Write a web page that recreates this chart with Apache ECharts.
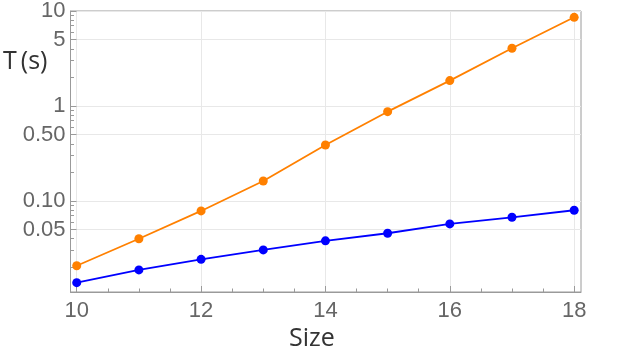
<!DOCTYPE html>
<html>
<head>
<meta charset="utf-8">
<script src="https://cdn.jsdelivr.net/npm/echarts@6/dist/echarts.min.js"></script>
<style>html,body{margin:0;padding:0;background:#fff}#c{width:623px;height:352px}</style>
</head>
<body>
<div id="c"></div>
<script>
var sizes = [10, 11, 12, 13, 14, 15, 16, 17, 18];
var orangeT = [0.0208, 0.040, 0.0785, 0.162, 0.388, 0.871, 1.85, 4.05, 8.58];
var blueT = [0.0138, 0.0188, 0.0243, 0.0305, 0.038, 0.0457, 0.0573, 0.0673, 0.0798];
var yMajorTicks = [0.05, 0.1, 0.5, 1, 5, 10];
var yMajorLabels = ['0.05', '0.10', '0.50', '1', '5', '10'];
var yMinorTicks = [0.02, 0.03, 0.04, 0.06, 0.07, 0.08, 0.09, 0.2, 0.3, 0.4, 0.6, 0.7, 0.8, 0.9, 2, 3, 4, 6, 7, 8, 9];
var xMajorTicks = [10, 12, 14, 16, 18];
var xMinorTicks = [10.5, 11, 11.5, 12.5, 13, 13.5, 14.5, 15, 15.5, 16.5, 17, 17.5];

var axisGray = '#9a9a9a';
var labelGray = '#666666';
var yMin = 0.011, yMax = 10, xMin = 9.9, xMax = 18.11;

var chart = echarts.init(document.getElementById('c'), null, {renderer: 'canvas'});
function pts(vals) { return sizes.map(function (s, i) { return [s, vals[i]]; }); }

chart.setOption({
  animation: false,
  backgroundColor: '#fff',
  grid: {left: 70.5, right: 42, top: 11, bottom: 60, show: true, borderColor: axisGray, borderWidth: 1, backgroundColor: 'transparent'},
  xAxis: [{
    type: 'value', min: xMin, max: xMax,
    axisLine: {show: true, lineStyle: {color: axisGray}},
    axisTick: {show: true, inside: true, length: 6, customValues: xMajorTicks, lineStyle: {color: axisGray}},
    axisLabel: {show: true, customValues: xMajorTicks, margin: 8, color: labelGray, fontSize: 22, fontFamily: 'Liberation Sans'},
    splitLine: {show: true, lineStyle: {color: '#e8e8e8'}}
  }, {
    type: 'value', min: xMin, max: xMax, position: 'bottom',
    axisLine: {show: false},
    axisTick: {show: true, inside: true, length: 3.5, customValues: xMinorTicks, lineStyle: {color: axisGray}},
    axisLabel: {show: false},
    splitLine: {show: false}
  }],
  yAxis: [{
    type: 'log', logBase: 10, min: yMin, max: yMax,
    axisLine: {show: true, lineStyle: {color: axisGray}},
    axisTick: {show: true, inside: true, length: 6, customValues: yMajorTicks, lineStyle: {color: axisGray}},
    axisLabel: {show: true, customValues: yMajorTicks, margin: 5, color: labelGray, fontSize: 22, fontFamily: 'Liberation Sans',
      formatter: function (v) {
        for (var i = 0; i < yMajorTicks.length; i++) { if (Math.abs(v - yMajorTicks[i]) / yMajorTicks[i] < 1e-6) return yMajorLabels[i]; }
        return '';
      }},
    splitLine: {show: true, lineStyle: {color: '#e8e8e8'}}
  }, {
    type: 'log', logBase: 10, min: yMin, max: yMax, position: 'left',
    axisLine: {show: false},
    axisTick: {show: true, inside: true, length: 3.5, customValues: yMinorTicks, lineStyle: {color: axisGray}},
    axisLabel: {show: false},
    splitLine: {show: false}
  }],
  series: [{
    type: 'line', data: pts(orangeT), xAxisIndex: 0, yAxisIndex: 0,
    symbol: 'circle', symbolSize: 9,
    lineStyle: {color: '#ff8000', width: 1.8},
    itemStyle: {color: '#ff8000'}
  }, {
    type: 'line', data: pts(blueT), xAxisIndex: 0, yAxisIndex: 0,
    symbol: 'circle', symbolSize: 9,
    lineStyle: {color: '#0000ff', width: 1.8},
    itemStyle: {color: '#0000ff'}
  }],
  graphic: [{
    type: 'text', left: 3, top: 49,
    style: {text: '{t|T}(s)', font: '25px "Open Sans"', fill: '#333333',
      rich: {t: {font: '25px "Open Sans"', fill: '#333333', padding: [0, 4, 0, 0]}}}
  }, {
    type: 'text', left: 289, top: 326,
    style: {text: 'Size', font: '25px "Open Sans"', fill: '#333333'}
  }]
});
</script>
</body>
</html>
